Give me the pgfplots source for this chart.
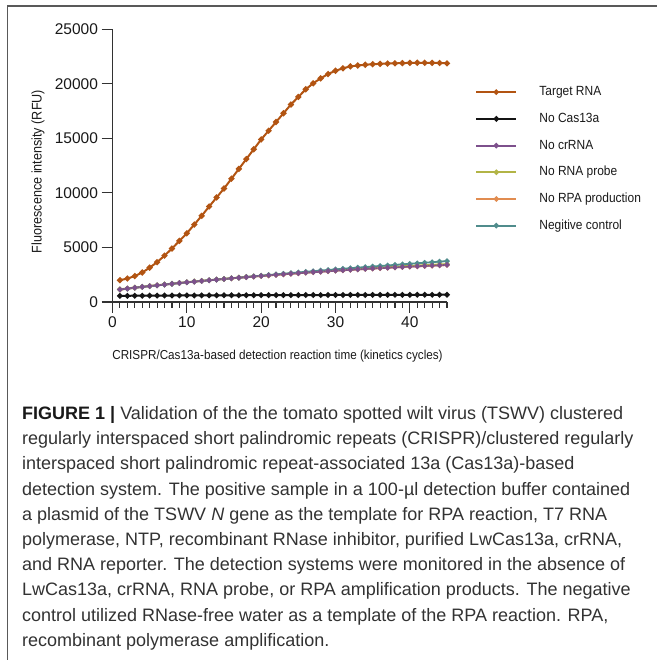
\documentclass[border=0pt]{standalone}
\usepackage{fontspec}
\setmainfont{Liberation Sans}
\newfontfamily\labfont[FakeStretch=0.9]{Liberation Sans}
\usepackage{pgfplots}
\pgfplotsset{compat=1.18}
\usepackage{pgfplotstable}

\definecolor{ctarget}{RGB}{178,84,18}
\definecolor{cblack}{RGB}{20,20,20}
\definecolor{cpurple}{RGB}{125,80,140}
\definecolor{colive}{RGB}{178,180,70}
\definecolor{corange}{RGB}{225,140,80}
\definecolor{cteal}{RGB}{80,140,140}
\definecolor{axgray}{RGB}{50,50,50}
\definecolor{capgray}{RGB}{50,50,50}

\pgfplotstableread{
x y
1 2000
2 2150
3 2380
4 2700
5 3150
6 3650
7 4250
8 4900
9 5600
10 6300
11 7100
12 7900
13 8750
14 9580
15 10400
16 11300
17 12200
18 13100
19 14000
20 14900
21 15700
22 16500
23 17300
24 18100
25 18800
26 19500
27 20050
28 20500
29 20900
30 21200
31 21420
32 21600
33 21680
34 21750
35 21800
36 21830
37 21860
38 21880
39 21900
40 21920
41 21930
42 21930
43 21920
44 21910
45 21880
}\target

\pgfplotstableread{
x y
1 560
2 570
3 575
4 580
5 585
6 588
7 590
8 595
9 598
10 600
11 603
12 605
13 608
14 610
15 612
16 615
17 617
18 620
19 622
20 624
21 626
22 628
23 630
24 632
25 634
26 636
27 638
28 640
29 641
30 643
31 645
32 646
33 648
34 650
35 651
36 653
37 654
38 656
39 657
40 659
41 660
42 661
43 663
44 664
45 665
}\nocas

\pgfplotstableread{
x y
1 1150
2 1230
3 1310
4 1390
5 1460
6 1530
7 1600
8 1670
9 1740
10 1810
11 1870
12 1930
13 1990
14 2050
15 2110
16 2170
17 2225
18 2280
19 2335
20 2390
21 2440
22 2490
23 2540
24 2590
25 2640
26 2690
27 2735
28 2780
29 2825
30 2870
31 2910
32 2950
33 2990
34 3030
35 3070
36 3105
37 3140
38 3175
39 3210
40 3245
41 3275
42 3305
43 3335
44 3365
45 3395
}\nocr

\pgfplotstableread{
x y
1 1170
2 1250
3 1330
4 1400
5 1470
6 1545
7 1615
8 1685
9 1750
10 1820
11 1885
12 1945
13 2005
14 2065
15 2125
16 2185
17 2240
18 2300
19 2355
20 2410
21 2460
22 2515
23 2565
24 2615
25 2665
26 2715
27 2765
28 2810
29 2860
30 2905
31 2950
32 2995
33 3040
34 3080
35 3120
36 3160
37 3200
38 3240
39 3275
40 3310
41 3345
42 3380
43 3410
44 3440
45 3470
}\noprobe

\pgfplotstableread{
x y
1 1130
2 1215
3 1295
4 1375
5 1450
6 1520
7 1590
8 1660
9 1730
10 1800
11 1860
12 1925
13 1985
14 2045
15 2105
16 2165
17 2220
18 2275
19 2330
20 2385
21 2435
22 2485
23 2535
24 2585
25 2635
26 2685
27 2730
28 2775
29 2820
30 2865
31 2905
32 2945
33 2985
34 3025
35 3065
36 3100
37 3135
38 3170
39 3205
40 3240
41 3270
42 3300
43 3330
44 3360
45 3390
}\norpa

\pgfplotstableread{
x y
1 1140
2 1220
3 1300
4 1380
5 1450
6 1520
7 1590
8 1660
9 1730
10 1800
11 1865
12 1930
13 1990
14 2050
15 2110
16 2170
17 2230
18 2290
19 2350
20 2410
21 2470
22 2530
23 2590
24 2650
25 2710
26 2770
27 2825
28 2880
29 2935
30 2990
31 3045
32 3100
33 3150
34 3200
35 3250
36 3300
37 3350
38 3400
39 3450
40 3500
41 3550
42 3600
43 3650
44 3700
45 3750
}\negctl

\begin{document}
\begin{tikzpicture}[x=1pt,y=1pt]
\useasboundingbox (0,0) rectangle (657,660);
\draw[line width=1.3pt, color=black!65] (7.5,0) -- (7.5,654) -- (657,654);
\begin{axis}[
  at={(112.5pt,358pt)}, anchor=origin,
  scale only axis, width=334.5pt, height=272.7pt,
  xmin=0, xmax=45, ymin=0, ymax=25000,
  axis x line=bottom, axis y line=left,
  axis line style={-, line width=1.1pt, color=axgray},
  xtick={0,10,20,30,40}, minor xtick={0,1,...,45},
  ytick={0,5000,10000,15000,20000,25000},
  tick align=outside, major tick length=11pt, minor tick length=6pt,
  every tick/.append style={line width=1.1pt, color=axgray},
  tick label style={font=\fontsize{15.5}{16}\selectfont, color=black!90},
  /pgf/number format/assume math mode=true,
  /pgf/number format/1000 sep={},
  scaled y ticks=false,
  xlabel={CRISPR/Cas13a-based detection reaction time (kinetics cycles)},
  xlabel style={at={(axis description cs:0.4933,-0.198)}, anchor=center, font=\labfont\fontsize{13}{15}\selectfont, color=black!90},
  ylabel={Fluorescence intensity (RFU)},
  ylabel style={at={(axis description cs:-0.2227,0.4785)}, anchor=center, font=\labfont\fontsize{14}{16}\selectfont, color=black!90},
  legend style={at={(rel axis cs:1.0837,0.794)}, anchor=north west, draw=none, fill=none,
    inner xsep=0pt, inner ysep=0pt, row sep=13.7pt,
    font=\labfont\fontsize{13.3}{15}\selectfont, text=black!90,
    nodes={inner sep=0pt, text height=10pt, text depth=3pt},
    /tikz/every odd column/.append style={column sep=22pt}},
  legend cell align=left,
  legend image code/.code={\draw[mark repeat=2,mark phase=2] plot coordinates {(0pt,0pt) (20pt,0pt) (40pt,0pt)};},
  clip=false,
]
\addplot[forget plot, corange, line width=1.8pt, mark=*, mark size=1.7pt] table {\norpa};
\addplot[forget plot, colive, line width=1.8pt, mark=*, mark size=1.7pt] table {\noprobe};
\addplot[forget plot, cteal, line width=1.8pt, mark=*, mark size=1.7pt] table {\negctl};
\addplot[forget plot, cpurple, line width=1.8pt, mark=*, mark size=1.7pt] table {\nocr};
\addplot[forget plot, cblack, line width=2pt, mark=*, mark size=1.7pt] table {\nocas};
\addplot[forget plot, ctarget, line width=2pt, mark=*, mark size=1.9pt] table {\target};

\addlegendimage{ctarget, line width=2pt, mark=*, mark size=1.6pt}
\addlegendentry{Target RNA}
\addlegendimage{cblack, line width=2.2pt, mark=*, mark size=1.6pt}
\addlegendentry{No Cas13a}
\addlegendimage{cpurple, line width=2pt, mark=*, mark size=1.6pt}
\addlegendentry{No crRNA}
\addlegendimage{colive, line width=2pt, mark=*, mark size=1.6pt}
\addlegendentry{No RNA probe}
\addlegendimage{corange, line width=2pt, mark=*, mark size=1.6pt}
\addlegendentry{No RPA production}
\addlegendimage{cteal, line width=2pt, mark=*, mark size=1.6pt}
\addlegendentry{Negitive control}
\end{axis}
\begin{scope}[every node/.style={anchor=base west, inner sep=0pt, font=\fontsize{18}{20}\selectfont, text=capgray}]
\node at (22,240.4) {\textbf{\color{black!90}FIGURE 1 |} Validation of the the tomato spotted wilt virus (TSWV) clustered};
\node at (22,215.2) {regularly interspaced short palindromic repeats (CRISPR)/clustered regularly};
\node at (22,190.0) {interspaced short palindromic repeat-associated 13a (Cas13a)-based};
\node at (22,164.8) {detection system. The positive sample in a 100-µl detection buffer contained};
\node at (22,139.6) {a plasmid of the TSWV \textit{N} gene as the template for RPA reaction, T7 RNA};
\node at (22,114.4) {polymerase, NTP, recombinant RNase inhibitor, purified LwCas13a, crRNA,};
\node at (22,89.2) {and RNA reporter. The detection systems were monitored in the absence of};
\node at (22,64.0) {LwCas13a, crRNA, RNA probe, or RPA amplification products. The negative};
\node at (22,38.8) {control utilized RNase-free water as a template of the RPA reaction. RPA,};
\node at (22,13.6) {recombinant polymerase amplification.};
\end{scope}
\end{tikzpicture}
\end{document}
